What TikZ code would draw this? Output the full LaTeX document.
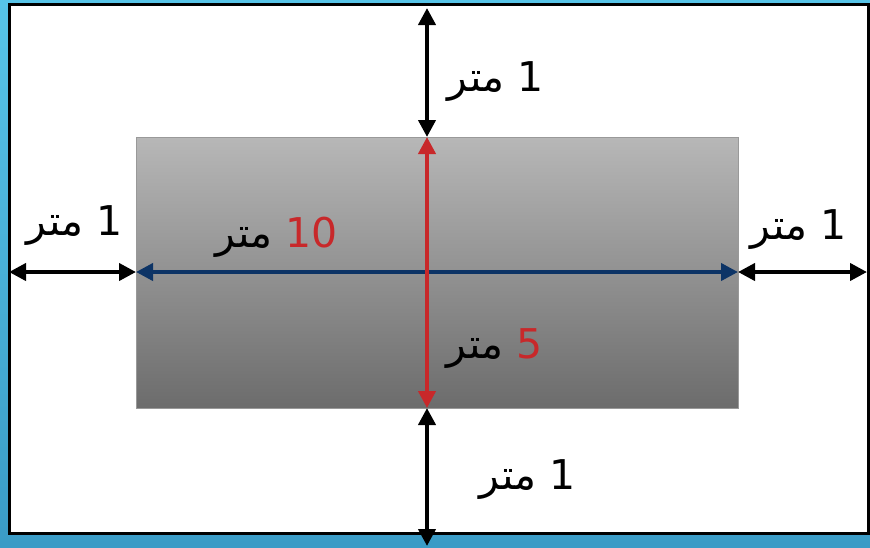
\documentclass[tikz,border=0pt]{standalone}
\usepackage{fontspec}
\setmainfont{DejaVu Sans}
\newfontfamily\arabicfont[Script=Arabic]{DejaVu Sans}
\TeXXeTstate=1
\usetikzlibrary{arrows.meta}
\definecolor{bgtop}{HTML}{57C4E8}
\definecolor{bgbot}{HTML}{3A9BC6}
\definecolor{graytop}{HTML}{B7B7B7}
\definecolor{graybot}{HTML}{6C6C6C}
\definecolor{redarr}{HTML}{C8282A}
\definecolor{bluearr}{HTML}{0D3466}
\tikzset{
  dimarrow/.style={line width=4pt,{Triangle[width=17pt,length=17pt]}-{Triangle[width=17pt,length=17pt]}},
  lbl/.style={inner sep=0pt,font=\fontsize{41}{45}\selectfont\arabicfont}
}
\begin{document}
\begin{tikzpicture}[x=1pt,y=-1pt]
\shade[top color=bgtop,bottom color=bgbot] (0,0) rectangle (870,547);
\useasboundingbox (0,0) rectangle (870,547);
\draw[fill=white,line width=3pt] (9.5,4.5) rectangle (868,533.5);
\shade[top color=graytop,bottom color=graybot] (136,137) rectangle (738,408);
\draw[gray!80,line width=1pt] (136,137) rectangle (738,408);
% coordinates
\coordinate (T) at (427,8);
\coordinate (RT) at (427,137);
\coordinate (RB) at (427,408);
\coordinate (B) at (427,546);
\coordinate (L) at (9,272);
\coordinate (BL) at (136,272);
\coordinate (BR) at (738,272);
\coordinate (R) at (867,272);
% arrows
\draw[dimarrow,black] (T) -- (RT);
\draw[dimarrow,black] (RB) -- (B);
\draw[dimarrow,black] (L) -- (BL);
\draw[dimarrow,black] (BR) -- (R);
\draw[dimarrow,bluearr] (BL) -- (BR);
\draw[dimarrow,redarr] (RT) -- (RB);
% labels
\node[lbl] (ltop) at (496,82) {\beginR متر\endR\ 1};
\node[lbl] (lleft) at (75,226) {\beginR متر\endR\ 1};
\node[lbl] (lright) at (799,230) {\beginR متر\endR\ 1};
\node[lbl] (lbot) at (528,480) {\beginR متر\endR\ 1};
\node[lbl] (lten) at (277,237) {\beginR متر\endR\ \textcolor{redarr}{10}};
\node[lbl] (lfive) at (495,349) {\beginR متر\endR\ \textcolor{redarr}{5}};
\end{tikzpicture}
\end{document}
